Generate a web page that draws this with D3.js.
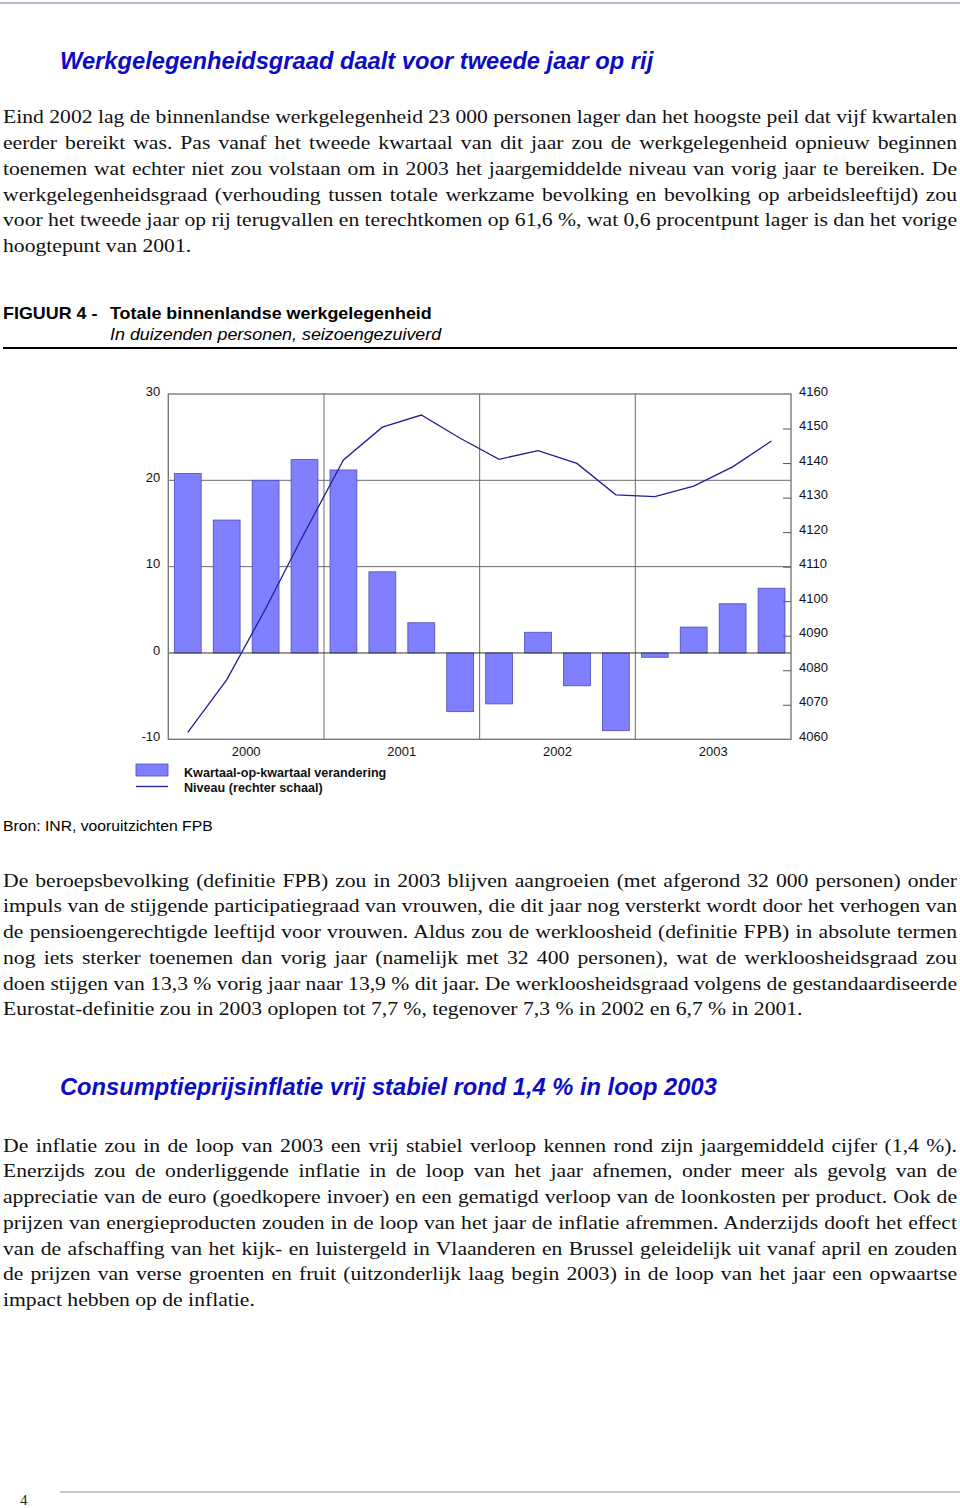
<!DOCTYPE html>
<html>
<head>
<meta charset="utf-8">
<script src="https://cdn.jsdelivr.net/npm/d3@7"></script>
<style>
  html, body { margin: 0; padding: 0; background: #fff; }
  svg { display: block; }
</style>
</head>
<body>
<svg id="page" width="960" height="1508"></svg>
<script>
// ---------------- DATA ----------------
const quarters = ["2000K1","2000K2","2000K3","2000K4","2001K1","2001K2","2001K3","2001K4",
                  "2002K1","2002K2","2002K3","2002K4","2003K1","2003K2","2003K3","2003K4"];
const years = ["2000","2001","2002","2003"];
// Kwartaal-op-kwartaal verandering (duizenden personen, linker schaal)
const changeValues = [20.8, 15.4, 20.0, 22.4, 21.2, 9.4, 3.5, -6.8,
                      -5.9, 2.4, -3.8, -9.0, -0.5, 3.0, 5.7, 7.5];
// Niveau (duizenden personen, rechter schaal)
const levelValues = [4062.0, 4077.2, 4097.8, 4119.8, 4140.9, 4150.4, 4153.9, 4147.2,
                     4141.1, 4143.6, 4139.9, 4130.8, 4130.3, 4133.3, 4138.9, 4146.4];
const leftTicks = [-10, 0, 10, 20, 30];
const rightTicks = [4060, 4070, 4080, 4090, 4100, 4110, 4120, 4130, 4140, 4150, 4160];
const legendLabels = ["Kwartaal-op-kwartaal verandering", "Niveau (rechter schaal)"];

const title1 = "Werkgelegenheidsgraad daalt voor tweede jaar op rij";
const title2 = "Consumptieprijsinflatie vrij stabiel rond 1,4 % in loop 2003";
const figLabel = "FIGUUR 4 -";
const figTitle = "Totale binnenlandse werkgelegenheid";
const figSubtitle = "In duizenden personen, seizoengezuiverd";
const sourceText = "Bron: INR, vooruitzichten FPB";
const pageNumber = "4";

const para1 = [
 "Eind 2002 lag de binnenlandse werkgelegenheid 23 000 personen lager dan het hoogste peil dat vijf kwartalen",
 "eerder bereikt was. Pas vanaf het tweede kwartaal van dit jaar zou de werkgelegenheid opnieuw beginnen",
 "toenemen wat echter niet zou volstaan om in 2003 het jaargemiddelde niveau van vorig jaar te bereiken. De",
 "werkgelegenheidsgraad (verhouding tussen totale werkzame bevolking en bevolking op arbeidsleeftijd) zou",
 "voor het tweede jaar op rij terugvallen en terechtkomen op 61,6 %, wat 0,6 procentpunt lager is dan het vorige",
 "hoogtepunt van 2001."
];
const para2 = [
 "De beroepsbevolking (definitie FPB) zou in 2003 blijven aangroeien (met afgerond 32 000 personen) onder",
 "impuls van de stijgende participatiegraad van vrouwen, die dit jaar nog versterkt wordt door het verhogen van",
 "de pensioengerechtigde leeftijd voor vrouwen. Aldus zou de werkloosheid (definitie FPB) in absolute termen",
 "nog iets sterker toenemen dan vorig jaar (namelijk met 32 400 personen), wat de werkloosheidsgraad zou",
 "doen stijgen van 13,3 % vorig jaar naar 13,9 % dit jaar. De werkloosheidsgraad volgens de gestandaardiseerde",
 "Eurostat-definitie zou in 2003 oplopen tot 7,7 %, tegenover 7,3 % in 2002 en 6,7 % in 2001."
];
const para3 = [
 "De inflatie zou in de loop van 2003 een vrij stabiel verloop kennen rond zijn jaargemiddeld cijfer (1,4 %).",
 "Enerzijds zou de onderliggende inflatie in de loop van het jaar afnemen, onder meer als gevolg van de",
 "appreciatie van de euro (goedkopere invoer) en een gematigd verloop van de loonkosten per product. Ook de",
 "prijzen van energieproducten zouden in de loop van het jaar de inflatie afremmen. Anderzijds dooft het effect",
 "van de afschaffing van het kijk- en luistergeld in Vlaanderen en Brussel geleidelijk uit vanaf april en zouden",
 "de prijzen van verse groenten en fruit (uitzonderlijk laag begin 2003) in de loop van het jaar een opwaartse",
 "impact hebben op de inflatie."
];

// ---------------- PAGE ----------------
const svg = d3.select("#page");
const SERIF = "'Liberation Serif','Times New Roman',serif";
const SANS = "'Liberation Sans',Arial,Helvetica,sans-serif";
const SX = 1.14;          // horizontal stretch of the page text
const TEXT_W = 954;       // justified column width
const LEFT = 3;

// top & bottom rules
svg.append("line").attr("x1", 0).attr("x2", 960).attr("y1", 3).attr("y2", 3)
  .attr("stroke", "#b8b8cc").attr("stroke-width", 2);
svg.append("line").attr("x1", 60).attr("x2", 960).attr("y1", 1492).attr("y2", 1492)
  .attr("stroke", "#c8c8c8").attr("stroke-width", 2);
svg.append("text").attr("x", 20).attr("y", 1505).attr("font-family", SERIF)
  .attr("font-size", 15).attr("fill", "#222").text(pageNumber);

function heading(txt, y) {
  svg.append("text").attr("x", 60).attr("y", y)
    .attr("font-family", SANS).attr("font-weight", "bold").attr("font-style", "italic")
    .attr("font-size", 23.7).attr("fill", "#0c0cc6").text(txt);
}
heading(title1, 69);
heading(title2, 1095);

function paragraph(lines, y0, lh) {
  lines.forEach((ln, i) => {
    const t = svg.append("text")
      .attr("transform", `translate(${LEFT},${y0 + i * lh}) scale(${SX},1)`)
      .attr("font-family", SERIF).attr("font-size", 19).attr("fill", "#111")
      .attr("xml:space", "preserve")
      .text(ln);
    if (i < lines.length - 1) {
      const natural = t.node().getComputedTextLength();
      const spaces = (ln.match(/ /g) || []).length;
      if (spaces > 0) t.attr("word-spacing", (TEXT_W / SX - natural) / spaces);
    }
  });
}
paragraph(para1, 123.3, 25.75);
paragraph(para2, 886.5, 25.75);
paragraph(para3, 1151.7, 25.7);

// figure caption
function capText(txt, x, y, weight, style) {
  svg.append("text").attr("transform", `translate(${x},${y}) scale(${SX},1)`)
    .attr("font-family", SANS).attr("font-size", 15.7)
    .attr("font-weight", weight).attr("font-style", style).attr("fill", "#000").text(txt);
}
capText(figLabel, 3, 319.3, "bold", "normal");
capText(figTitle, 110, 319.3, "bold", "normal");
capText(figSubtitle, 110, 340.3, "normal", "italic");
svg.append("line").attr("x1", 3).attr("x2", 957).attr("y1", 348).attr("y2", 348)
  .attr("stroke", "#000").attr("stroke-width", 2);

svg.append("text").attr("transform", `translate(3,831) scale(${SX},1)`)
  .attr("font-family", SANS).attr("font-size", 13.8).attr("fill", "#000").text(sourceText);

// ---------------- CHART ----------------
const X0 = 168.3, X1 = 791, YT = 394, YB = 739.3;
const BAR_FILL = "#8080ff", BAR_STROKE = "#4b4bb8", LINE_COLOR = "#1f1f9a";

const x = d3.scaleBand().domain(quarters).range([X0, X1]).paddingInner(0.31).paddingOuter(0.155);
const xYear = d3.scaleBand().domain(years).range([X0, X1]);
const yL = d3.scaleLinear().domain([-10, 30]).range([YB, YT]);
const yR = d3.scaleLinear().domain([4060, 4160]).range([YB, YT]);

const chart = svg.append("g");

// gridlines (10, 20)
chart.selectAll("line.hgrid").data([10, 20]).join("line").attr("class", "hgrid")
  .attr("x1", X0).attr("x2", X1).attr("y1", d => yL(d)).attr("y2", d => yL(d))
  .attr("stroke", "#6a6a6a").attr("stroke-width", 1);
// year dividers
chart.selectAll("line.vgrid").data(years.slice(1)).join("line").attr("class", "vgrid")
  .attr("x1", d => xYear(d)).attr("x2", d => xYear(d)).attr("y1", YT).attr("y2", YB)
  .attr("stroke", "#6a6a6a").attr("stroke-width", 1);

// bars
chart.selectAll("rect.bar").data(changeValues).join("rect").attr("class", "bar")
  .attr("x", (d, i) => x(quarters[i]))
  .attr("width", x.bandwidth())
  .attr("y", d => yL(Math.max(0, d)))
  .attr("height", d => Math.abs(yL(d) - yL(0)))
  .attr("fill", BAR_FILL).attr("stroke", BAR_STROKE).attr("stroke-width", 0.8);

// zero line
chart.append("line").attr("x1", X0).attr("x2", X1).attr("y1", yL(0)).attr("y2", yL(0))
  .attr("stroke", "#333").attr("stroke-width", 1);

// frame
chart.append("rect").attr("x", X0).attr("y", YT).attr("width", X1 - X0).attr("height", YB - YT)
  .attr("fill", "none").attr("stroke", "#7a7a7a").attr("stroke-width", 1.4);

// line
const lineGen = d3.line()
  .x((d, i) => x(quarters[i]) + x.bandwidth() / 2)
  .y(d => yR(d));
chart.append("path").datum(levelValues).attr("d", lineGen)
  .attr("fill", "none").attr("stroke", LINE_COLOR).attr("stroke-width", 1.3);

// axes
const plainFmt = d => String(d);
function styleAxis(g) {
  g.select(".domain").remove();
  g.selectAll("text").attr("font-family", SANS).attr("font-size", 13).attr("fill", "#111");
}
chart.append("g").attr("transform", `translate(${X0},0)`)
  .call(d3.axisLeft(yL).tickValues(leftTicks).tickSize(0).tickPadding(8).tickFormat(plainFmt))
  .call(styleAxis)
  .call(g => g.selectAll("text").attr("dy", "0.08em"));

chart.append("g").attr("transform", `translate(${X1},0)`)
  .call(d3.axisRight(yR).tickValues(rightTicks).tickSize(0).tickPadding(8).tickFormat(plainFmt))
  .call(styleAxis)
  .call(g => g.selectAll("text").attr("dy", "0.08em"));

// inner right ticks
chart.append("g").attr("transform", `translate(${X1},0)`)
  .call(d3.axisLeft(yR).tickValues(rightTicks.slice(1, -1)).tickSize(8).tickFormat(""))
  .call(g => g.select(".domain").remove())
  .call(g => g.selectAll("line").attr("stroke", "#555").attr("stroke-width", 1));

chart.append("g").attr("transform", `translate(0,${YB})`)
  .call(d3.axisBottom(xYear).tickSize(0).tickPadding(7.5))
  .call(styleAxis);

// legend
const lg = svg.append("g");
lg.append("rect").attr("x", 136).attr("y", 764).attr("width", 32).attr("height", 12)
  .attr("fill", BAR_FILL).attr("stroke", BAR_STROKE).attr("stroke-width", 0.8);
lg.append("line").attr("x1", 136).attr("x2", 168).attr("y1", 786.5).attr("y2", 786.5)
  .attr("stroke", LINE_COLOR).attr("stroke-width", 1.3);
lg.selectAll("text").data(legendLabels).join("text")
  .attr("x", 184).attr("y", (d, i) => 776.5 + i * 15.5)
  .attr("font-family", SANS).attr("font-weight", "bold").attr("font-size", 12.6)
  .attr("fill", "#111").text(d => d);
</script>
</body>
</html>
